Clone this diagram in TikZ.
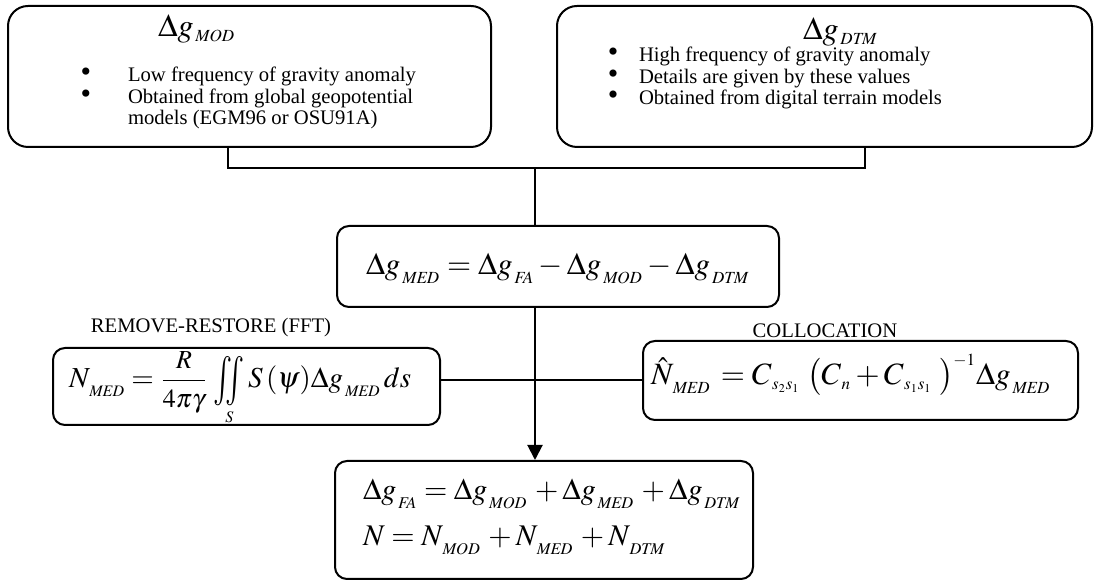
\documentclass[tikz,border=0pt]{standalone}
\usepackage{amsmath}
\usepackage{mathptmx}
\usepackage{fontspec}
\setmainfont{Liberation Serif}
\usetikzlibrary{arrows.meta}
\DeclareMathSizes{16}{16}{8.5}{6}
\DeclareMathSizes{15.5}{15.5}{8.5}{6}
\DeclareMathSizes{15}{15}{8.2}{6}
\DeclareMathSizes{14.5}{14.5}{8}{5.5}
\DeclareMathSizes{13}{13}{7}{5}
\newcommand{\hsb}[1]{_{\,\mathit{#1}}}
\newcommand{\sbt}[1]{_{\raisebox{-2pt}{$\scriptstyle\,\mathit{#1}$}}}
\newcommand{\frpart}[1]{\mbox{\fontsize{13}{14}\selectfont$#1$}}
\newcommand{\dblint}{\mathop{\vcenter{\hbox{\scalebox{1.1}[1.7]{$\textstyle\iint$}}}}}

\begin{document}
\begin{tikzpicture}[x=0.5pt,y=-0.5pt,line width=1pt,
  box/.style={draw,rounded corners=#1,inner sep=0pt},
  box/.default=6pt,
  txt/.style={font=\fontsize{10.33}{12}\selectfont,inner sep=0pt},
  dot/.style={font=\fontsize{15}{15}\selectfont,inner sep=0pt,anchor=base},
  hdr/.style={font=\fontsize{16}{19}\selectfont,inner sep=0pt},
  eqn/.style={font=\fontsize{15.5}{18}\selectfont,inner sep=0pt},
  eqf/.style={font=\fontsize{15}{18}\selectfont,inner sep=0pt},
  eqs/.style={font=\fontsize{14.5}{17}\selectfont,inner sep=0pt}]
\useasboundingbox (0,0) rectangle (1094,581);

% boxes
\node[box=10pt,minimum width=241.5pt,minimum height=70.5pt] (modbox) at (249.5,76.5) {};
\node[box=10pt,minimum width=267.5pt,minimum height=70.5pt] (dtmbox) at (824.5,76.5) {};
\node[box,minimum width=221pt,minimum height=40.5pt] (medbox) at (558,266.5) {};
\node[box,minimum width=193.5pt,minimum height=38.5pt] (fftbox) at (246.5,386.5) {};
\node[box,minimum width=217.5pt,minimum height=39.5pt] (collbox) at (860.5,380.5) {};
\node[box,minimum width=209pt,minimum height=59pt] (finbox) at (544,520) {};

% long-wavelength part
\node[hdr,anchor=base west] (modhdr) at (157,37) {$\Delta g\hsb{MOD}$};
\node[dot] (modb1) at (86,82) {\textbullet};
\node[txt,anchor=base west] (modt1) at (127,82) {Low frequency of gravity anomaly};
\node[dot] (modb2) at (86,103.5) {\textbullet};
\node[txt,anchor=base west] (modt2) at (127,103.5) {Obtained from global geopotential};
\node[txt,anchor=base west] (modt3) at (127,125) {models (EGM96 or OSU91A)};

% short-wavelength part
\node[hdr,anchor=base west] (dtmhdr) at (802,40) {$\Delta g\hsb{DTM}$};
\node[dot] (dtmb1) at (613,62) {\textbullet};
\node[txt,anchor=base west] (dtmt1) at (638,62) {High frequency of gravity anomaly};
\node[dot] (dtmb2) at (613,83.5) {\textbullet};
\node[txt,anchor=base west] (dtmt2) at (638,83.5) {Details are given by these values};
\node[dot] (dtmb3) at (613,105) {\textbullet};
\node[txt,anchor=base west] (dtmt3) at (638,105) {Obtained from digital terrain models};

% residual anomaly
\node[eqn,anchor=base west] (medeq) at (365,275)
  {$\Delta g\sbt{MED} = \Delta g\sbt{FA} - \Delta g\sbt{MOD} - \Delta g\sbt{DTM}$};

% the two methods
\node[txt] (fftlbl) at (211,328) {REMOVE-RESTORE (FFT)};
\node[txt] (colllbl) at (825,331) {COLLOCATION};
\node[eqs,anchor=base west] (ffteq) at (68,388)
  {$N\sbt{MED} = \displaystyle\frac{\frpart{R}}{\frpart{4\pi\gamma}}\,\dblint\limits_S S\,(\psi)\Delta g\sbt{MED}\,ds$};
\node[eqn,anchor=base west] (colleq) at (650,385)
  {$\hat{N}\sbt{MED}\,= C_{\,s_2 s_1}\;\bigl(C_{\,n} + C_{\,s_1 s_1}\;\bigr)^{-1}\Delta g\sbt{MED}$};

% restore step
\node[eqf,anchor=base west] (fineq1) at (362,500)
  {$\Delta g\sbt{FA} = \Delta g\sbt{MOD}\, + \Delta g\sbt{MED}\, + \Delta g\sbt{DTM}$};
\node[eqf,anchor=base west] (fineq2) at (362,546)
  {$N = N\sbt{MOD}\, + N\sbt{MED}\, + N\sbt{DTM}$};

% connectors
\coordinate (brL) at (228,168);
\coordinate (brR) at (865,168);
\coordinate (brM) at (535,168);
\coordinate (crossY) at (0,380);
\draw (modbox.south -| brL) -- (brL) -- (brR) -- (dtmbox.south -| brR);
\draw (brM) -- (brM |- medbox.north);
\draw[-{Triangle[length=7.5pt,width=7.5pt]}] (brM |- medbox.south) -- (brM |- finbox.north);
\draw (fftbox.east |- crossY) -- (collbox.west |- crossY);
\end{tikzpicture}
\end{document}
